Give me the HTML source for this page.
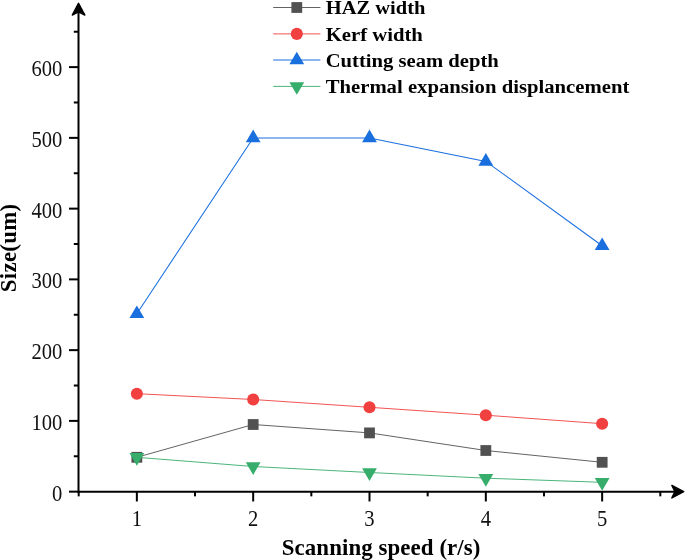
<!DOCTYPE html>
<html><head><meta charset="utf-8"><title>chart</title>
<style>html,body{margin:0;padding:0;background:#fff}svg{display:block;transform:translateZ(0);will-change:transform}</style>
</head><body>
<svg width="685" height="560" viewBox="0 0 685 560">
<rect width="685" height="560" fill="#fff"/>
<g stroke="#000" stroke-width="2" fill="none">
<line x1="78.5" y1="12" x2="78.5" y2="492.65"/>
<line x1="77.5" y1="491.65" x2="676" y2="491.65"/>
<line x1="69.0" y1="491.65" x2="78.5" y2="491.65"/>
<line x1="69.0" y1="420.89" x2="78.5" y2="420.89"/>
<line x1="69.0" y1="350.14" x2="78.5" y2="350.14"/>
<line x1="69.0" y1="279.38" x2="78.5" y2="279.38"/>
<line x1="69.0" y1="208.63" x2="78.5" y2="208.63"/>
<line x1="69.0" y1="137.87" x2="78.5" y2="137.87"/>
<line x1="69.0" y1="67.11" x2="78.5" y2="67.11"/>
<line x1="73.8" y1="456.27" x2="78.5" y2="456.27"/>
<line x1="73.8" y1="385.52" x2="78.5" y2="385.52"/>
<line x1="73.8" y1="314.76" x2="78.5" y2="314.76"/>
<line x1="73.8" y1="244.00" x2="78.5" y2="244.00"/>
<line x1="73.8" y1="173.25" x2="78.5" y2="173.25"/>
<line x1="73.8" y1="102.49" x2="78.5" y2="102.49"/>
<line x1="73.8" y1="31.74" x2="78.5" y2="31.74"/>
<line x1="136.85" y1="491.65" x2="136.85" y2="501.45"/>
<line x1="253.18" y1="491.65" x2="253.18" y2="501.45"/>
<line x1="369.50" y1="491.65" x2="369.50" y2="501.45"/>
<line x1="485.83" y1="491.65" x2="485.83" y2="501.45"/>
<line x1="602.15" y1="491.65" x2="602.15" y2="501.45"/>
<line x1="78.69" y1="491.65" x2="78.69" y2="496.34999999999997"/>
<line x1="195.01" y1="491.65" x2="195.01" y2="496.34999999999997"/>
<line x1="311.34" y1="491.65" x2="311.34" y2="496.34999999999997"/>
<line x1="427.66" y1="491.65" x2="427.66" y2="496.34999999999997"/>
<line x1="543.99" y1="491.65" x2="543.99" y2="496.34999999999997"/>
<line x1="660.31" y1="491.65" x2="660.31" y2="496.34999999999997"/>
</g>
<polygon points="78.5,3.3 84.8,15.0 78.5,11.8 72.3,15.0" fill="#000" stroke="#000" stroke-width="1.5" stroke-linejoin="round"/>
<polygon points="683.7,491.65 671.9,497.95 675.0,491.65 671.9,485.45" fill="#000" stroke="#000" stroke-width="1.5" stroke-linejoin="round"/>
<g font-family="'Liberation Serif', serif" font-size="22.4" fill="#111">
<text x="62.3" y="500.55" text-anchor="end" textLength="10.3" lengthAdjust="spacingAndGlyphs">0</text>
<text x="62.3" y="429.79" text-anchor="end" textLength="30.9" lengthAdjust="spacingAndGlyphs">100</text>
<text x="62.3" y="359.04" text-anchor="end" textLength="30.9" lengthAdjust="spacingAndGlyphs">200</text>
<text x="62.3" y="288.28" text-anchor="end" textLength="30.9" lengthAdjust="spacingAndGlyphs">300</text>
<text x="62.3" y="217.53" text-anchor="end" textLength="30.9" lengthAdjust="spacingAndGlyphs">400</text>
<text x="62.3" y="146.77" text-anchor="end" textLength="30.9" lengthAdjust="spacingAndGlyphs">500</text>
<text x="62.3" y="76.01" text-anchor="end" textLength="30.9" lengthAdjust="spacingAndGlyphs">600</text>
<text x="136.85" y="526" text-anchor="middle" textLength="10.3" lengthAdjust="spacingAndGlyphs">1</text>
<text x="253.18" y="526" text-anchor="middle" textLength="10.3" lengthAdjust="spacingAndGlyphs">2</text>
<text x="369.50" y="526" text-anchor="middle" textLength="10.3" lengthAdjust="spacingAndGlyphs">3</text>
<text x="485.83" y="526" text-anchor="middle" textLength="10.3" lengthAdjust="spacingAndGlyphs">4</text>
<text x="602.15" y="526" text-anchor="middle" textLength="10.3" lengthAdjust="spacingAndGlyphs">5</text>
</g>
<polyline points="136.85,457.30 253.18,424.50 369.50,432.90 485.83,450.50 602.15,462.30" fill="none" stroke="#515151" stroke-width="0.9"/>
<rect x="131.45" y="451.90" width="10.8" height="10.8" fill="#515151"/>
<rect x="247.78" y="419.10" width="10.8" height="10.8" fill="#515151"/>
<rect x="364.10" y="427.50" width="10.8" height="10.8" fill="#515151"/>
<rect x="480.43" y="445.10" width="10.8" height="10.8" fill="#515151"/>
<rect x="596.75" y="456.90" width="10.8" height="10.8" fill="#515151"/>
<polyline points="136.85,393.70 253.18,399.50 369.50,407.30 485.83,415.20 602.15,423.70" fill="none" stroke="#F14040" stroke-width="0.9"/>
<circle cx="136.85" cy="393.70" r="6.05" fill="#F14040"/>
<circle cx="253.18" cy="399.50" r="6.05" fill="#F14040"/>
<circle cx="369.50" cy="407.30" r="6.05" fill="#F14040"/>
<circle cx="485.83" cy="415.20" r="6.05" fill="#F14040"/>
<circle cx="602.15" cy="423.70" r="6.05" fill="#F14040"/>
<polyline points="136.85,313.70 253.18,137.90 369.50,137.90 485.83,161.40 602.15,245.70" fill="none" stroke="#1A6FDF" stroke-width="1.05"/>
<polygon points="136.85,305.40 144.25,317.95 129.45,317.95" fill="#1A6FDF"/>
<polygon points="253.18,129.60 260.57,142.15 245.78,142.15" fill="#1A6FDF"/>
<polygon points="369.50,129.60 376.90,142.15 362.10,142.15" fill="#1A6FDF"/>
<polygon points="485.83,153.10 493.23,165.65 478.43,165.65" fill="#1A6FDF"/>
<polygon points="602.15,237.40 609.55,249.95 594.75,249.95" fill="#1A6FDF"/>
<polyline points="136.85,457.30 253.18,466.50 369.50,472.50 485.83,478.20 602.15,482.30" fill="none" stroke="#37AD6B" stroke-width="0.9"/>
<polygon points="136.85,465.75 144.25,453.05 129.45,453.05" fill="#37AD6B"/>
<polygon points="253.18,474.95 260.57,462.25 245.78,462.25" fill="#37AD6B"/>
<polygon points="369.50,480.95 376.90,468.25 362.10,468.25" fill="#37AD6B"/>
<polygon points="485.83,486.65 493.23,473.95 478.43,473.95" fill="#37AD6B"/>
<polygon points="602.15,490.75 609.55,478.05 594.75,478.05" fill="#37AD6B"/>
<g font-family="'Liberation Serif', serif" font-weight="bold" font-size="19.6" fill="#000">
<line x1="273.2" y1="7.5" x2="320.4" y2="7.5" stroke="#515151" stroke-width="0.9"/>
<rect x="291.40" y="2.10" width="10.8" height="10.8" fill="#515151"/>
<text class="leg" textLength="99.7" lengthAdjust="spacingAndGlyphs" x="325.7" y="14.10">HAZ width</text>
<line x1="273.2" y1="33.9" x2="320.4" y2="33.9" stroke="#F14040" stroke-width="0.9"/>
<circle cx="296.80" cy="33.90" r="6.05" fill="#F14040"/>
<text class="leg" textLength="97.2" lengthAdjust="spacingAndGlyphs" x="325.7" y="40.90">Kerf width</text>
<line x1="273.2" y1="60.0" x2="320.4" y2="60.0" stroke="#1A6FDF" stroke-width="1.05"/>
<polygon points="296.80,51.70 304.20,64.25 289.40,64.25" fill="#1A6FDF"/>
<text class="leg" textLength="173.1" lengthAdjust="spacingAndGlyphs" x="325.7" y="67.00">Cutting seam depth</text>
<line x1="273.2" y1="86.4" x2="320.4" y2="86.4" stroke="#37AD6B" stroke-width="0.9"/>
<polygon points="296.80,94.85 304.20,82.15 289.40,82.15" fill="#37AD6B"/>
<text class="leg" textLength="303.6" lengthAdjust="spacingAndGlyphs" x="325.7" y="92.90">Thermal expansion displancement</text>
</g>
<g font-family="'Liberation Serif', serif" font-weight="bold" font-size="22.9" fill="#000">
<text id="xt" x="281.8" y="555" textLength="198.6" lengthAdjust="spacing">Scanning speed (r/s)</text>
<text id="yt" transform="translate(15.8,292.2) rotate(-90)" textLength="88.4" lengthAdjust="spacing">Size(um)</text>
</g>
</svg>
</body></html>
